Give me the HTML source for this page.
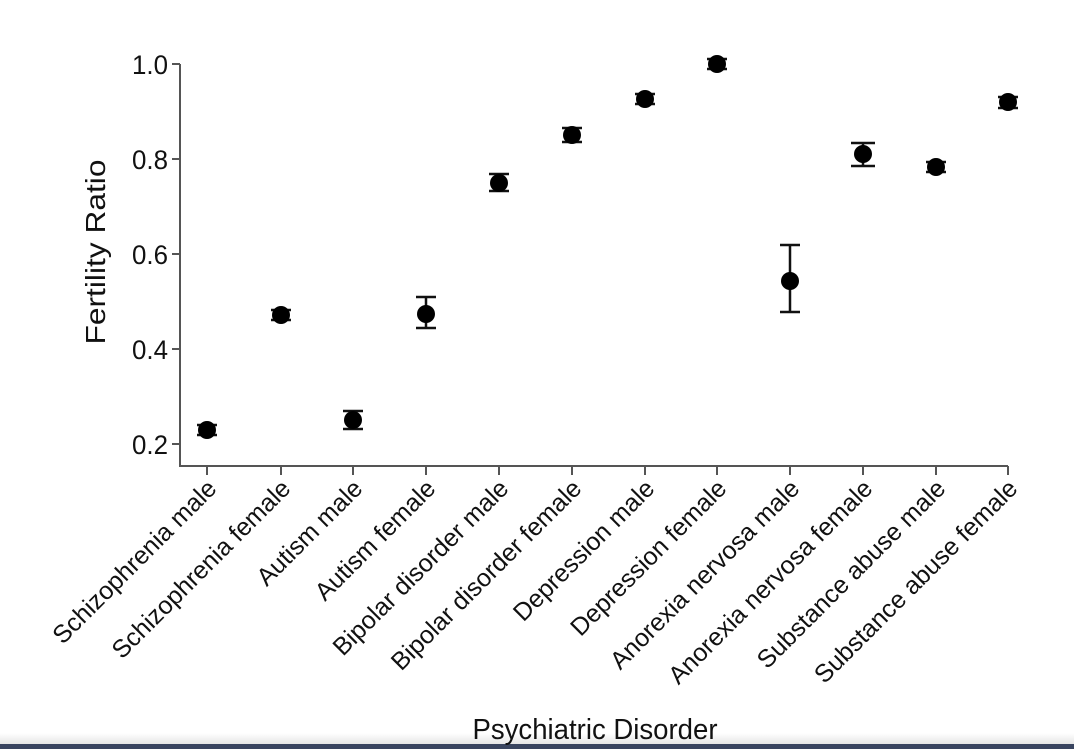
<!DOCTYPE html>
<html><head><style>
html,body{margin:0;padding:0;background:#fff;width:1074px;height:749px;overflow:hidden}
text{font-family:"Liberation Sans",sans-serif;fill:#111}
</style></head><body>
<svg width="1074" height="749" viewBox="0 0 1074 749" xmlns="http://www.w3.org/2000/svg">
<defs><linearGradient id="g" x1="0" y1="0" x2="0" y2="1"><stop offset="0" stop-color="#fff"/><stop offset="1" stop-color="#e6e6e6"/></linearGradient></defs>
<rect x="0" y="733" width="1074" height="11" fill="url(#g)"/>
<rect x="0" y="744" width="1074" height="5" fill="#3a4560"/>
<g stroke="#555" stroke-width="2" fill="none">
<path d="M180 64 V466 H1008"/>
<path d="M172 64H180M172 159H180M172 254H180M172 349H180M172 444H180"/>
<path d="M207 466v9M281 466v9M353 466v9M426 466v9M499 466v9M572 466v9M645 466v9M717 466v9M790 466v9M863 466v9M936 466v9M1008 466v9"/>
</g>
<g font-size="27" text-anchor="end">
<text x="168" y="74" textLength="36" lengthAdjust="spacingAndGlyphs">1.0</text>
<text x="168" y="169" textLength="36" lengthAdjust="spacingAndGlyphs">0.8</text>
<text x="168" y="264" textLength="36" lengthAdjust="spacingAndGlyphs">0.6</text>
<text x="168" y="359" textLength="36" lengthAdjust="spacingAndGlyphs">0.4</text>
<text x="168" y="454" textLength="36" lengthAdjust="spacingAndGlyphs">0.2</text>
</g>
<text transform="translate(105,252) rotate(-90)" font-size="28" text-anchor="middle" textLength="185" lengthAdjust="spacingAndGlyphs">Fertility Ratio</text>
<text x="595" y="739" font-size="29" text-anchor="middle" textLength="245" lengthAdjust="spacingAndGlyphs">Psychiatric Disorder</text>
<g stroke="#111" stroke-width="2.5" fill="none">
<path d="M197 425h20M197 435h20"/>
<path d="M271 310h20M271 320h20"/>
<path d="M343 411h20M343 429h20M353 411v18"/>
<path d="M416 297h20M416 328h20M426 297v31"/>
<path d="M489 174h20M489 191h20M499 174v17"/>
<path d="M562 128h20M562 142h20"/>
<path d="M635 94h20M635 104h20"/>
<path d="M707 59h20M707 69h20"/>
<path d="M780 245h20M780 312h20M790 245v67"/>
<path d="M851 143h24M851 166h24M863 143v23"/>
<path d="M926 162h20M926 172h20"/>
<path d="M998 97h20M998 108h20"/>
</g>
<g fill="#000">
<circle cx="207" cy="430" r="9"/><circle cx="281" cy="315" r="9"/><circle cx="353" cy="420" r="9"/><circle cx="426" cy="314" r="9"/>
<circle cx="499" cy="183" r="9"/><circle cx="572" cy="135" r="9"/><circle cx="645" cy="99" r="9"/><circle cx="717" cy="64" r="9"/>
<circle cx="790" cy="281" r="9"/><circle cx="863" cy="154" r="9"/><circle cx="936" cy="167" r="9"/><circle cx="1008" cy="102" r="9"/>
</g>
<g font-size="25" text-anchor="end">
<text transform="translate(218,490) rotate(-45)">Schizophrenia male</text>
<text transform="translate(292,490) rotate(-45)">Schizophrenia female</text>
<text transform="translate(364,490) rotate(-45)">Autism male</text>
<text transform="translate(437,490) rotate(-45)">Autism female</text>
<text transform="translate(510,490) rotate(-45)">Bipolar disorder male</text>
<text transform="translate(583,490) rotate(-45)">Bipolar disorder female</text>
<text transform="translate(656,490) rotate(-45)">Depression male</text>
<text transform="translate(728,490) rotate(-45)">Depression female</text>
<text transform="translate(801,490) rotate(-45)">Anorexia nervosa male</text>
<text transform="translate(874,490) rotate(-45)">Anorexia nervosa female</text>
<text transform="translate(947,490) rotate(-45)">Substance abuse male</text>
<text transform="translate(1019,490) rotate(-45)">Substance abuse female</text>
</g>
</svg>
</body></html>
